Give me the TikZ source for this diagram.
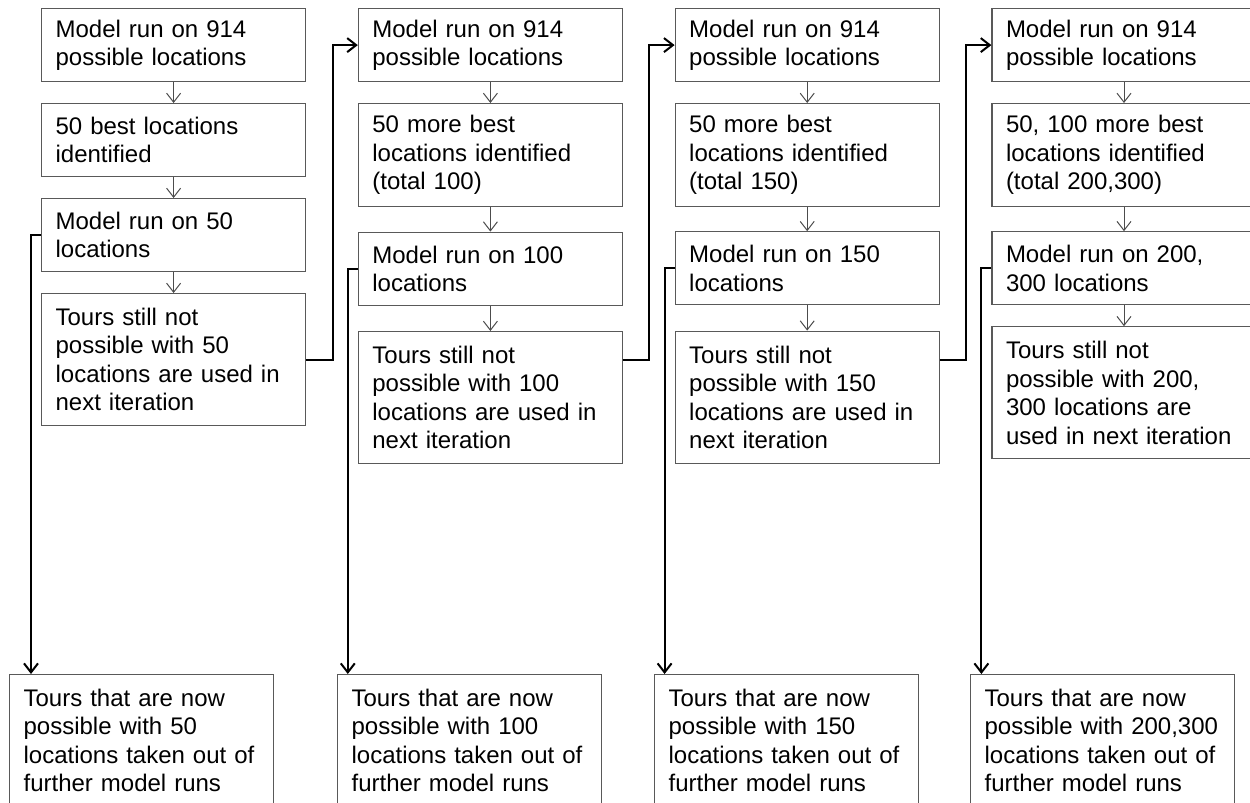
\documentclass[tikz,border=0pt]{standalone}
\usepackage{fontspec}
\setmainfont{Liberation Sans}
\usepackage{tikz}
\usetikzlibrary{arrows.meta,positioning}

\begin{document}
\begin{tikzpicture}[
    x=0.5pt, y=-0.5pt,
    node distance=10.4pt and 25.8pt,
    box/.style={rectangle, draw=black!65, line width=0.6pt, minimum width=132pt, text width=118pt,
      inner xsep=7pt, minimum height=36.5pt, align=left, font=\fontsize{12}{14.25}\selectfont},
    tall/.style={minimum height=51.5pt},
    taller/.style={minimum height=66pt},
    arr/.style={-{Straight Barb[length=4.5pt,width=7pt]}, draw=black!70, line width=0.5pt},
    link/.style={-{Straight Barb[length=4.5pt,width=7pt]}, line width=1pt}
  ]
    \useasboundingbox (0,0) rectangle (1250,803);
    \clip (0,0) rectangle (1250,803);
    % first pass: 50 locations
    \node[box, anchor=north west] (a1) at (41,8) {Model run on 914\\possible locations};
    \node[box, below=of a1] (b1) {50 best locations\\identified};
    \node[box, below=of b1] (m1) {Model run on 50\\locations};
    \node[box, taller, below=of m1] (t1) {Tours still not\\possible with 50\\locations are used in\\next iteration};
    % second pass: 100 locations
    \node[box, right=of a1] (a2) {Model run on 914\\possible locations};
    \node[box, tall, below=of a2] (b2) {50 more best\\locations identified\\(total 100)};
    \node[box, below=12.2pt of b2] (m2) {Model run on 100\\locations};
    \node[box, taller, below=12.6pt of m2] (t2) {Tours still not\\possible with 100\\locations are used in\\next iteration};
    % third pass: 150 locations
    \node[box, right=of a2] (a3) {Model run on 914\\possible locations};
    \node[box, tall, below=of a3] (b3) {50 more best\\locations identified\\(total 150)};
    \node[box, below=12pt of b3] (m3) {Model run on 150\\locations};
    \node[box, taller, below=12.6pt of m3] (t3) {Tours still not\\possible with 150\\locations are used in\\next iteration};
    % fourth pass: 200,300 locations
    \node[box, right=of a3] (a4) {Model run on 914\\possible locations};
    \node[box, tall, below=of a4] (b4) {50, 100 more best\\locations identified\\(total 200,300)};
    \node[box, below=12pt of b4] (m4) {Model run on 200,\\300 locations};
    \node[box, taller, below=of m4] (t4) {Tours still not\\possible with 200,\\300 locations are\\used in next iteration};
    % tours taken out
    \node[box, taller, anchor=north west] (e1) at (9,674) {Tours that are now\\possible with 50\\locations taken out of\\further model runs};
    \node[box, taller, anchor=north west] (e2) at (337,674) {Tours that are now\\possible with 100\\locations taken out of\\further model runs};
    \node[box, taller, anchor=north west] (e3) at (654,674) {Tours that are now\\possible with 150\\locations taken out of\\further model runs};
    \node[box, taller, anchor=north west] (e4) at (970,674) {Tours that are now\\possible with 200,300\\locations taken out of\\further model runs};
    \foreach \c in {1,2,3,4} {
      \draw[arr] (a\c) -- (b\c);
      \draw[arr] (b\c) -- (m\c);
      \draw[arr] (m\c) -- (t\c);
      \draw[link] (m\c.west) -- ++(-10,0) coordinate (d\c) -- (d\c |- e\c.north);
    }
    \draw[link] (t1.east) -- ++(27,0) |- (a2.west);
    \draw[link] (t2.east |- t1.east) -- ++(26,0) |- (a3.west);
    \draw[link] (t3.east |- t1.east) -- ++(26,0) |- (a4.west);
  \end{tikzpicture}
\end{document}
